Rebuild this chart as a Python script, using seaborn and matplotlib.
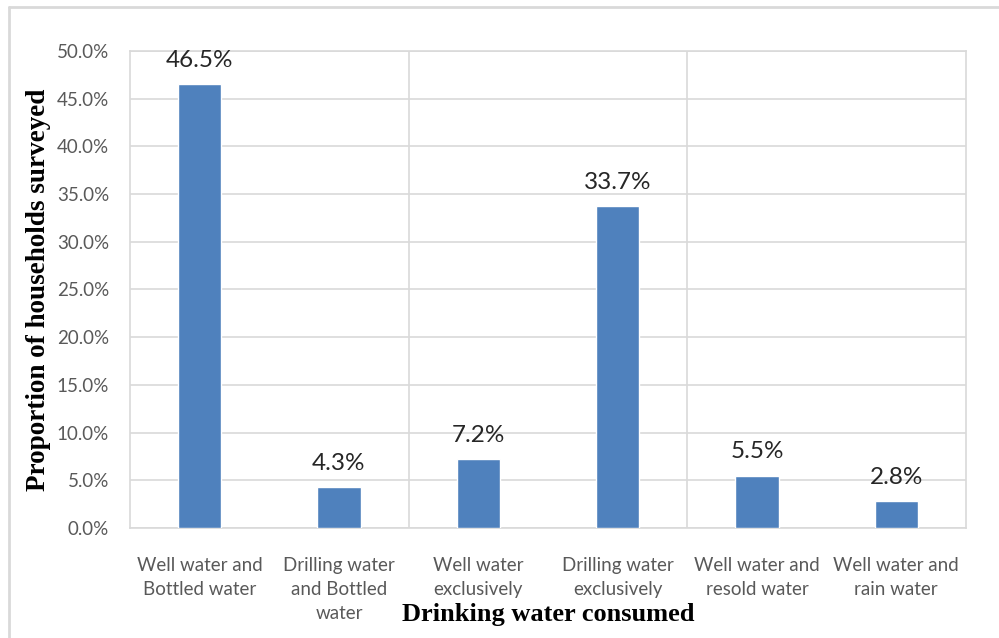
import matplotlib
matplotlib.use("Agg")
import matplotlib.pyplot as plt
from matplotlib.lines import Line2D
from matplotlib.ticker import FuncFormatter
import pandas as pd
import seaborn as sns

# Drinking water sources and share of surveyed households (%)
categories = [
    "Well water and\nBottled water",
    "Drilling water\nand Bottled\nwater",
    "Well water\nexclusively",
    "Drilling water\nexclusively",
    "Well water and\nresold water",
    "Well water and\nrain water",
]
shares = [46.5, 4.3, 7.2, 33.7, 5.5, 2.8]
y_ticks = [0, 5, 10, 15, 20, 25, 30, 35, 40, 45, 50]

x_title = "Drinking water consumed"
y_title = "Proportion of households surveyed"

df = pd.DataFrame({"source": categories, "share": shares})

sns.set_theme(style="white")
label_font = ["Lato", "DejaVu Sans"]
title_font = ["Liberation Serif", "DejaVu Serif"]
grid_col = "#D9D9D9"
bar_col = "#4F81BD"

fig = plt.figure(figsize=(9.99, 6.38), dpi=100)
ax = fig.add_axes([0.1301, 0.1724, 0.8368, 0.7477])

sns.barplot(data=df, x="source", y="share", color=bar_col, saturation=1,
            width=0.31, ax=ax, zorder=3)

ax.set_xlim(-0.5, len(categories) - 0.5)
ax.set_ylim(y_ticks[0], y_ticks[-1])
ax.set_yticks(y_ticks)
ax.yaxis.set_major_formatter(FuncFormatter(lambda v, _: f"{v:.1f}%"))
ax.grid(axis="y", color=grid_col, linewidth=1.2, zorder=0)
ax.set_axisbelow(True)

# separators between category pairs
for xb in (1.5, 3.5):
    ax.axvline(xb, color=grid_col, linewidth=1.2, zorder=1)

for side in ("left", "right", "bottom", "top"):
    ax.spines[side].set_color(grid_col)
    ax.spines[side].set_linewidth(1.2)

ax.tick_params(axis="y", length=0, pad=15, labelsize=13.5, labelcolor="#595959")
ax.tick_params(axis="x", length=0, pad=21, labelsize=13.5, labelcolor="#595959")
for lab in ax.get_yticklabels():
    lab.set_family(label_font)
for lab in ax.get_xticklabels():
    lab.set_family(label_font)
    lab.set_linespacing(1.5)

# value labels above bars
for i, v in enumerate(shares):
    ax.annotate(f"{v:.1f}%", xy=(i, v), xytext=(0, 12.5), textcoords="offset points",
                ha="center", va="baseline", fontsize=17.5, color="#262626",
                family=label_font)

ax.set_xlabel(x_title, fontsize=19, fontweight="bold", family=title_font, color="black")
ax.xaxis.set_label_coords(0.5, -0.182)
ax.xaxis.label.set_va("center")
ax.set_ylabel(y_title, fontsize=19.5, fontweight="bold", family=title_font, color="black")
ax.yaxis.set_label_coords(-0.110, 0.5)
ax.yaxis.label.set_va("center")

# outer frame lines (top and left)
fig.add_artist(Line2D([9 / 999, 9 / 999], [0, 1 - 7 / 638], transform=fig.transFigure,
                      color=grid_col, linewidth=2))
fig.add_artist(Line2D([9 / 999, 1], [1 - 7 / 638, 1 - 7 / 638], transform=fig.transFigure,
                      color=grid_col, linewidth=2))

fig.savefig("out.png", dpi=100, facecolor="white")
